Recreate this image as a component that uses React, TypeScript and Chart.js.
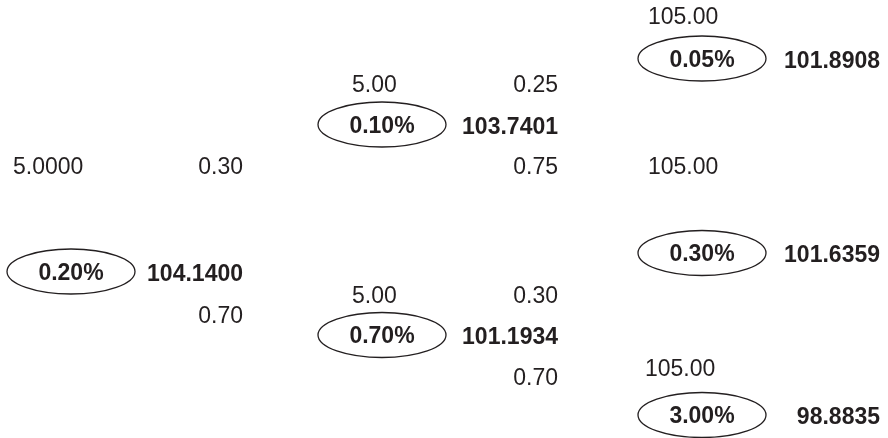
import React, { useEffect, useRef } from 'react';
import { Chart, registerables } from 'chart.js';

Chart.register(...registerables);

// ---- Data (binomial interest-rate tree for a bond) ----
const rates = ['0.20%', '0.10%', '0.70%', '0.05%', '0.30%', '3.00%'];
const bondValues = ['104.1400', '103.7401', '101.1934', '101.8908', '101.6359', '98.8835'];
const cashFlows = ['5.0000', '5.00', '5.00', '105.00', '105.00', '105.00'];
const upProbs = ['0.30', '0.25', '0.30'];
const downProbs = ['0.70', '0.75', '0.70'];

// ---- Layout (chart units: x 0..888, y 0..438 top-down) ----
const nodeX = [71, 382, 382, 702, 702, 702];
const nodeY = [271.5, 124.5, 335, 58.5, 253, 415];
const valueX = [243, 558, 558, 880, 880, 880];
const valueY = [272.5, 126, 336, 59.5, 254, 416];
const cashX = [13, 352, 352, 648, 648, 645];
const cashY = [166, 83.5, 295, 16, 166, 368];
const probX = [243, 558, 558];
const upProbY = [166, 83.5, 295];
const downProbY = [315, 166, 377];

const FONT = '"Liberation Sans", Arial, Helvetica, sans-serif';
const INK = '#231f20';

const pts = (xs: number[], ys: number[]) => xs.map((x, i) => ({ x, y: ys[i] }));

const treePlugin = {
  id: 'treeLabels',
  afterDatasetsDraw(chart: any) {
    const ctx = chart.ctx;
    chart.data.datasets.forEach((ds: any, i: number) => {
      const meta = chart.getDatasetMeta(i);
      meta.data.forEach((el: any, j: number) => {
        const { x, y } = el;
        ctx.save();
        if (ds.ellipse) {
          ctx.beginPath();
          ctx.ellipse(x, y, ds.ellipse[0], ds.ellipse[1], 0, 0, Math.PI * 2);
          ctx.lineWidth = 1.3;
          ctx.strokeStyle = INK;
          ctx.stroke();
        }
        ctx.font = `${ds.weight} 23px ${FONT}`;
        ctx.fillStyle = INK;
        ctx.textAlign = ds.align;
        ctx.textBaseline = 'alphabetic';
        ctx.fillText(ds.texts[j], x, y + 8.2);
        ctx.restore();
      });
    });
  },
};

export default function App() {
  const ref = useRef<HTMLCanvasElement | null>(null);
  useEffect(() => {
    if (!ref.current) return;
    const base = { showLine: false, pointRadius: 0, pointHoverRadius: 0 };
    const chart = new Chart(ref.current, {
      type: 'scatter',
      data: {
        datasets: [
          { ...base, label: 'rates', data: pts(nodeX, nodeY), texts: rates, weight: 'bold', align: 'center', ellipse: [64, 22.5] } as any,
          { ...base, label: 'values', data: pts(valueX, valueY), texts: bondValues, weight: 'bold', align: 'right' } as any,
          { ...base, label: 'cash flows', data: pts(cashX, cashY), texts: cashFlows, weight: 'normal', align: 'left' } as any,
          { ...base, label: 'up', data: pts(probX, upProbY), texts: upProbs, weight: 'normal', align: 'right' } as any,
          { ...base, label: 'down', data: pts(probX, downProbY), texts: downProbs, weight: 'normal', align: 'right' } as any,
        ],
      },
      options: {
        animation: false,
        responsive: false,
        events: [],
        layout: { padding: 0 },
        plugins: { legend: { display: false }, tooltip: { enabled: false } },
        scales: {
          x: { type: 'linear', min: 0, max: 888, display: false },
          y: { type: 'linear', min: 0, max: 438, reverse: true, display: false },
        },
      },
      plugins: [treePlugin],
    });
    return () => chart.destroy();
  }, []);
  return (
    <div style={{ position: 'fixed', left: 0, top: 0, width: 888, height: 438, background: '#fff' }}>
      <canvas ref={ref} width={888} height={438} style={{ width: 888, height: 438 }} />
    </div>
  );
}
